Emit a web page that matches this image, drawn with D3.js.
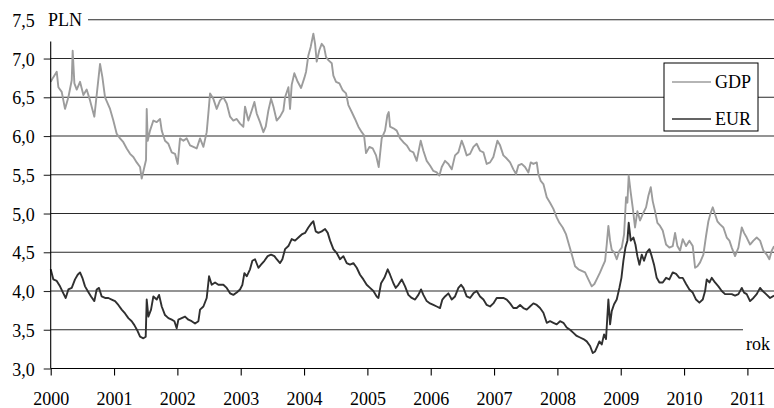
<!DOCTYPE html>
<html>
<head>
<meta charset="utf-8">
<script src="https://cdn.jsdelivr.net/npm/d3@7"></script>
<style>
  body { margin: 0; background: #fff; }
</style>
</head>
<body>
<div id="chart"></div>
<script>
// years as offset from 2000, values in PLN
var gdp_series = [
  [0,6.70],[0.042,6.76],[0.095,6.83],[0.121,6.63],[0.174,6.57],[0.226,6.35],[0.279,6.50],[0.332,6.72],
  [0.347,7.10],[0.374,6.68],[0.411,6.60],[0.463,6.70],[0.516,6.53],[0.568,6.60],[0.621,6.46],[0.689,6.25],
  [0.742,6.65],[0.779,6.93],[0.816,6.76],[0.858,6.50],[0.937,6.35],[0.989,6.20],[1.042,6.03],[1.095,5.97],
  [1.147,5.92],[1.200,5.84],[1.253,5.77],[1.305,5.73],[1.358,5.66],[1.411,5.60],[1.437,5.45],[1.479,5.60],
  [1.505,5.69],[1.516,6.35],[1.532,5.94],[1.568,6.07],[1.621,6.20],[1.674,6.18],[1.726,6.22],[1.753,6.07],
  [1.805,5.94],[1.858,5.90],[1.911,5.79],[1.963,5.77],[2.005,5.64],[2.042,5.97],[2.095,5.94],[2.147,5.97],
  [2.200,5.88],[2.253,5.86],[2.305,5.84],[2.358,5.97],[2.411,5.86],[2.463,6.05],[2.489,6.29],[2.516,6.55],
  [2.568,6.48],[2.621,6.35],[2.674,6.46],[2.726,6.50],[2.779,6.42],[2.832,6.25],[2.884,6.20],[2.937,6.22],
  [2.989,6.16],[3.042,6.12],[3.068,6.38],[3.121,6.20],[3.174,6.33],[3.216,6.44],[3.253,6.29],[3.305,6.18],
  [3.358,6.05],[3.395,6.12],[3.437,6.33],[3.479,6.48],[3.516,6.38],[3.568,6.20],[3.621,6.25],[3.674,6.33],
  [3.700,6.50],[3.753,6.63],[3.779,6.35],[3.805,6.66],[3.847,6.81],[3.900,6.70],[3.953,6.62],[4.005,6.75],
  [4.032,6.83],[4.068,7.04],[4.105,7.15],[4.147,7.32],[4.174,7.19],[4.200,6.96],[4.242,7.11],[4.279,7.19],
  [4.316,7.15],[4.347,7.02],[4.384,6.98],[4.437,6.94],[4.463,6.78],[4.505,6.70],[4.558,6.68],[4.611,6.59],
  [4.663,6.55],[4.700,6.40],[4.753,6.31],[4.805,6.22],[4.858,6.12],[4.911,6.05],[4.947,6.01],[4.979,5.78],
  [5.032,5.86],[5.084,5.84],[5.137,5.75],[5.179,5.60],[5.226,5.97],[5.279,6.07],[5.316,6.27],[5.337,6.31],
  [5.358,6.12],[5.411,6.10],[5.463,6.07],[5.516,5.97],[5.568,5.92],[5.621,5.88],[5.674,5.81],[5.726,5.79],
  [5.779,5.68],[5.842,5.94],[5.884,5.81],[5.937,5.68],[5.989,5.62],[6.042,5.55],[6.095,5.53],[6.137,5.49],
  [6.174,5.60],[6.226,5.68],[6.279,5.64],[6.332,5.57],[6.384,5.75],[6.437,5.79],[6.489,5.94],[6.526,5.86],
  [6.568,5.75],[6.621,5.77],[6.674,5.86],[6.726,5.90],[6.779,5.81],[6.832,5.79],[6.884,5.64],[6.937,5.66],
  [6.989,5.73],[7.053,5.94],[7.095,5.88],[7.147,5.75],[7.200,5.71],[7.253,5.66],[7.305,5.57],[7.347,5.51],
  [7.384,5.62],[7.437,5.64],[7.489,5.60],[7.542,5.53],[7.579,5.66],[7.621,5.64],[7.674,5.66],[7.700,5.51],
  [7.737,5.42],[7.779,5.38],[7.832,5.21],[7.884,5.14],[7.937,5.06],[7.989,4.95],[8.032,4.88],[8.084,4.82],
  [8.137,4.73],[8.189,4.58],[8.242,4.43],[8.279,4.32],[8.332,4.28],[8.384,4.26],[8.437,4.24],[8.489,4.15],
  [8.542,4.06],[8.584,4.09],[8.632,4.17],[8.674,4.24],[8.716,4.32],[8.753,4.39],[8.779,4.60],[8.805,4.84],
  [8.832,4.65],[8.858,4.53],[8.895,4.50],[8.937,4.41],[8.979,4.52],[9.016,4.56],[9.053,4.73],[9.084,5.21],
  [9.105,5.14],[9.126,5.49],[9.158,5.27],[9.189,5.08],[9.226,4.82],[9.263,5.03],[9.305,4.91],[9.358,5.01],
  [9.400,5.08],[9.437,5.23],[9.474,5.34],[9.505,5.16],[9.542,5.03],[9.579,4.88],[9.621,4.84],[9.663,4.78],
  [9.716,4.60],[9.768,4.56],[9.821,4.58],[9.858,4.75],[9.895,4.58],[9.937,4.52],[9.979,4.67],[10.032,4.58],
  [10.084,4.65],[10.137,4.58],[10.174,4.30],[10.211,4.32],[10.253,4.37],[10.305,4.47],[10.347,4.71],[10.384,4.90],
  [10.421,5.01],[10.453,5.08],[10.489,4.99],[10.526,4.90],[10.568,4.86],[10.621,4.82],[10.674,4.69],[10.716,4.65],
  [10.753,4.56],[10.805,4.45],[10.858,4.56],[10.911,4.82],[10.947,4.75],[10.989,4.69],[11.042,4.60],[11.095,4.65],
  [11.147,4.69],[11.200,4.65],[11.253,4.52],[11.305,4.47],[11.347,4.41],[11.384,4.52],[11.421,4.58]
];

var eur_series = [
  [0,4.28],[0.042,4.15],[0.095,4.13],[0.147,4.06],[0.200,3.97],[0.237,3.91],[0.279,4.02],[0.332,4.04],
  [0.384,4.15],[0.426,4.21],[0.463,4.24],[0.500,4.17],[0.542,4.06],[0.584,4.00],[0.637,3.93],[0.689,3.87],
  [0.726,4.02],[0.763,4.04],[0.805,3.93],[0.858,3.91],[0.911,3.91],[0.963,3.89],[1.016,3.87],[1.068,3.82],
  [1.121,3.76],[1.174,3.71],[1.226,3.65],[1.279,3.61],[1.321,3.56],[1.374,3.48],[1.411,3.41],[1.463,3.39],
  [1.500,3.41],[1.516,3.89],[1.542,3.67],[1.584,3.76],[1.621,3.93],[1.674,3.89],[1.711,3.95],[1.753,3.80],
  [1.805,3.69],[1.858,3.65],[1.911,3.63],[1.953,3.61],[1.989,3.52],[2.016,3.63],[2.068,3.65],[2.121,3.67],
  [2.174,3.63],[2.226,3.61],[2.279,3.58],[2.332,3.61],[2.358,3.76],[2.411,3.80],[2.463,3.91],[2.500,4.19],
  [2.542,4.08],[2.595,4.11],[2.647,4.08],[2.726,4.08],[2.779,4.04],[2.832,3.97],[2.884,3.95],[2.937,3.98],
  [2.989,4.02],[3.026,4.08],[3.058,4.23],[3.095,4.19],[3.147,4.28],[3.184,4.39],[3.226,4.41],[3.279,4.30],
  [3.321,4.34],[3.374,4.39],[3.426,4.45],[3.479,4.47],[3.532,4.45],[3.568,4.41],[3.621,4.36],[3.658,4.41],
  [3.700,4.54],[3.753,4.58],[3.805,4.67],[3.858,4.65],[3.911,4.69],[3.963,4.73],[4.016,4.75],[4.068,4.82],
  [4.121,4.88],[4.147,4.90],[4.184,4.77],[4.226,4.75],[4.279,4.77],[4.332,4.80],[4.374,4.75],[4.411,4.65],
  [4.463,4.54],[4.516,4.49],[4.568,4.41],[4.621,4.45],[4.674,4.36],[4.726,4.34],[4.779,4.36],[4.832,4.30],
  [4.884,4.21],[4.937,4.15],[4.989,4.08],[5.042,4.04],[5.095,4.00],[5.147,3.93],[5.174,3.91],[5.216,4.10],
  [5.268,4.17],[5.321,4.28],[5.358,4.21],[5.411,4.10],[5.447,4.04],[5.489,4.08],[5.542,4.15],[5.595,4.06],
  [5.647,3.95],[5.700,3.91],[5.753,3.89],[5.805,3.95],[5.847,4.02],[5.884,3.95],[5.937,3.87],[5.989,3.84],
  [6.042,3.82],[6.095,3.80],[6.147,3.78],[6.184,3.89],[6.226,3.93],[6.279,3.97],[6.332,3.89],[6.384,3.93],
  [6.437,4.04],[6.479,4.08],[6.516,4.04],[6.568,3.93],[6.621,3.91],[6.674,3.97],[6.726,4.00],[6.779,3.93],
  [6.832,3.89],[6.884,3.82],[6.937,3.80],[6.989,3.84],[7.042,3.91],[7.095,3.91],[7.147,3.91],[7.200,3.89],
  [7.253,3.84],[7.305,3.78],[7.358,3.78],[7.411,3.82],[7.463,3.78],[7.516,3.76],[7.568,3.80],[7.621,3.84],
  [7.674,3.82],[7.726,3.78],[7.779,3.72],[7.832,3.59],[7.884,3.61],[7.937,3.59],[7.989,3.57],[8.042,3.61],
  [8.095,3.59],[8.147,3.53],[8.200,3.50],[8.253,3.46],[8.305,3.42],[8.358,3.40],[8.411,3.38],[8.463,3.35],
  [8.516,3.29],[8.558,3.20],[8.595,3.22],[8.632,3.29],[8.663,3.35],[8.700,3.31],[8.737,3.44],[8.768,3.38],
  [8.805,3.89],[8.832,3.57],[8.858,3.74],[8.895,3.83],[8.937,3.89],[8.979,4.04],[9.011,4.17],[9.042,4.39],
  [9.074,4.56],[9.105,4.65],[9.126,4.88],[9.158,4.65],[9.200,4.69],[9.232,4.60],[9.263,4.45],[9.295,4.34],
  [9.332,4.47],[9.368,4.39],[9.411,4.50],[9.453,4.54],[9.489,4.45],[9.526,4.34],[9.568,4.17],[9.611,4.11],
  [9.663,4.11],[9.716,4.17],[9.768,4.15],[9.821,4.24],[9.874,4.22],[9.926,4.17],[9.979,4.17],[10.032,4.09],
  [10.084,4.02],[10.137,3.98],[10.189,3.89],[10.242,3.85],[10.295,3.89],[10.332,4.00],[10.358,4.15],[10.400,4.11],
  [10.437,4.17],[10.489,4.11],[10.542,4.06],[10.595,4.00],[10.647,3.96],[10.700,3.96],[10.753,3.96],[10.805,3.94],
  [10.858,3.96],[10.911,4.04],[10.947,3.98],[10.989,3.96],[11.042,3.87],[11.095,3.91],[11.147,3.96],[11.200,4.04],
  [11.242,4.00],[11.295,3.96],[11.358,3.91],[11.421,3.94]
];

var year_ticks = [2000, 2001, 2002, 2003, 2004, 2005, 2006, 2007, 2008, 2009, 2010, 2011];
var value_ticks = [3.0, 3.5, 4.0, 4.5, 5.0, 5.5, 6.0, 6.5, 7.0, 7.5];
var series_names = ["GDP", "EUR"];
var series_colours = ["#9c9c9c", "#303030"];

var width = 774, height = 408;
var x = d3.scaleLinear().domain([2000, 2011.42]).range([50.7, 774]);
var y = d3.scaleLinear().domain([3, 7.5]).range([368.5, 19.8]);
var pl = d3.formatLocale({ decimal: ",", thousands: " ", grouping: [3], currency: ["", " zł"] });

var svg = d3.select("#chart").append("svg")
    .attr("width", width)
    .attr("height", height);

function draw_grid() {
    svg.append("g").selectAll("line")
        .data(value_ticks.filter(function(d) { return d > 3; }))
        .enter()
        .append("line")
        .attr("x1", function(d) { return d == 7.5 ? 88 : 50.7; })
        .attr("x2", function(d) { return d == 3.5 ? 743 : 774; })
        .attr("y1", function(d) { return y(d); })
        .attr("y2", function(d) { return y(d); })
        .attr("stroke", "#2a2a2a")
        .attr("stroke-width", 1.1);
}

function draw_axes() {
    var yaxis = svg.append("g")
        .attr("transform", "translate(50.7,0)")
        .call(d3.axisLeft(y)
            .tickValues(value_ticks)
            .tickSize(7)
            .tickPadding(9)
            .tickFormat(pl.format(".1f")));
    yaxis.select(".domain").remove();
    yaxis.selectAll(".tick line")
        .attr("stroke", "#2a2a2a")
        .attr("stroke-width", 1.1)
        .filter(function(d) { return d == 7.5; }).remove();
    yaxis.selectAll(".tick text").attr("dy", "0.37em");

    svg.append("line")
        .attr("x1", 50.7).attr("x2", 50.7)
        .attr("y1", 41.5).attr("y2", y(3))
        .attr("stroke", "#000")
        .attr("stroke-width", 1.1);

    var xaxis = svg.append("g")
        .attr("transform", "translate(0," + y(3) + ")")
        .call(d3.axisBottom(x)
            .tickValues(year_ticks)
            .tickSize(7)
            .tickFormat(d3.format("d")));
    xaxis.select(".domain")
        .attr("d", "M" + x(2000) + ",0H774")
        .attr("stroke", "#000")
        .attr("stroke-width", 1.1);
    xaxis.selectAll(".tick line").attr("stroke", "#000").attr("stroke-width", 1.1);
    xaxis.selectAll(".tick text")
        .attr("y", 36.5)
        .attr("dy", null);

    svg.append("text").text("PLN").attr("x", 48).attr("y", y(7.5)).attr("dy", "0.37em");
    svg.append("text").text("rok").attr("x", 746).attr("y", 350);
}

function draw_lines() {
    var line_generator = d3.line()
        .x(function(d) { return x(2000 + d[0]); })
        .y(function(d) { return y(d[1]); });

    [gdp_series, eur_series].forEach(function(s, i) {
        svg.append("path")
            .datum(s)
            .attr("d", line_generator)
            .attr("fill", "none")
            .attr("stroke", series_colours[i])
            .attr("stroke-width", 1.9)
            .attr("stroke-linejoin", "round");
    });
}

function draw_legend() {
    var legend = svg.append("g").attr("transform", "translate(664,63)");

    legend.append("rect")
        .attr("width", 94)
        .attr("height", 68)
        .attr("fill", "#fff")
        .attr("stroke", "#000")
        .attr("stroke-width", 1);

    var items = legend.selectAll(".item")
        .data(series_names)
        .enter()
        .append("g")
        .attr("transform", function(d, i) { return "translate(0," + (19 + i * 37) + ")"; });

    items.append("line")
        .attr("x1", 8).attr("x2", 47)
        .attr("stroke", function(d, i) { return series_colours[i]; })
        .attr("stroke-width", 1.6);

    items.append("text")
        .text(function(d) { return d; })
        .attr("x", 51)
        .attr("dy", "0.35em");
}

draw_grid();
draw_lines();
draw_axes();
draw_legend();

// one font for every label
svg.selectAll("text")
    .style("font-family", "'Liberation Serif'")
    .style("font-size", "18px")
    .attr("fill", "#000");
</script>
</body>
</html>
